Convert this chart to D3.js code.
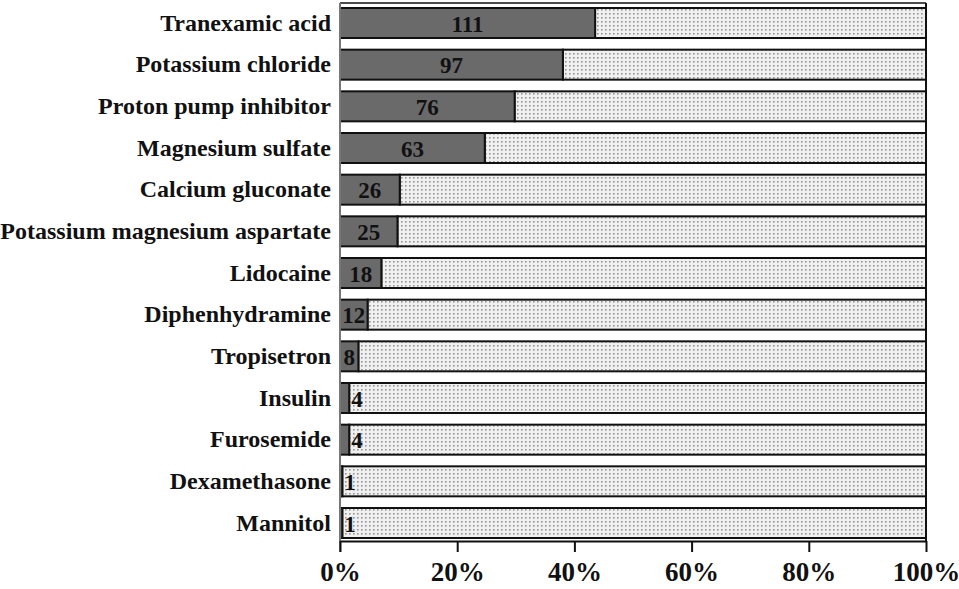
<!DOCTYPE html>
<html>
<head>
<meta charset="utf-8">
<script src="https://cdn.jsdelivr.net/npm/d3@7/dist/d3.min.js"></script>
<style>
  html, body { margin: 0; padding: 0; background: #fff; }
  svg { display: block; }
  text { font-family: "Liberation Serif", "Times New Roman", serif; font-weight: bold; fill: #111; }
</style>
</head>
<body>
<svg id="chart" width="959" height="589"></svg>
<script>
const drugs = ["Tranexamic acid", "Potassium chloride", "Proton pump inhibitor", "Magnesium sulfate",
  "Calcium gluconate", "Potassium magnesium aspartate", "Lidocaine", "Diphenhydramine",
  "Tropisetron", "Insulin", "Furosemide", "Dexamethasone", "Mannitol"];
const counts = [111, 97, 76, 63, 26, 25, 18, 12, 8, 4, 4, 1, 1];
const totalPatients = 255;
const tickValues = [0, 0.2, 0.4, 0.6, 0.8, 1.0];

const svg = d3.select("#chart");
const defs = svg.append("defs");
const pat = defs.append("pattern").attr("id", "dots").attr("patternUnits", "userSpaceOnUse")
  .attr("width", 4).attr("height", 4);
pat.append("rect").attr("width", 4).attr("height", 4).attr("fill", "#f0f0f0");
pat.append("rect").attr("x", 1).attr("y", 1).attr("width", 1.6).attr("height", 1.6).attr("fill", "#959595");

const x = d3.scaleLinear().domain([0, 1]).range([340, 926]);
const y = d3.scaleBand().domain(drugs).range([8, 538]).paddingInner(0.28).paddingOuter(0);

// frame: top and right
svg.append("line").attr("x1", x(0)).attr("x2", x(1)).attr("y1", 3).attr("y2", 3)
  .attr("stroke", "#111").attr("stroke-width", 1.5);
svg.append("line").attr("x1", x(1)).attr("x2", x(1)).attr("y1", 3).attr("y2", 541)
  .attr("stroke", "#111").attr("stroke-width", 2);

const rows = svg.append("g").selectAll("g").data(drugs).join("g");

// light remainder
rows.append("rect")
  .attr("x", (d, i) => x(counts[i] / totalPatients))
  .attr("y", d => y(d))
  .attr("width", (d, i) => x(1) - x(counts[i] / totalPatients))
  .attr("height", y.bandwidth())
  .attr("fill", "url(#dots)")
  .attr("stroke", "#111").attr("stroke-width", 2);

// dark portion
rows.append("rect")
  .attr("x", x(0))
  .attr("y", d => y(d))
  .attr("width", (d, i) => x(counts[i] / totalPatients) - x(0))
  .attr("height", y.bandwidth())
  .attr("fill", "#6a6a6a")
  .attr("stroke", "#111").attr("stroke-width", 2);

// value labels
rows.append("text")
  .attr("font-size", 23)
  .attr("dominant-baseline", "central")
  .attr("y", d => y(d) + y.bandwidth() / 2 + 1)
  .each(function (d, i) {
    const w = x(counts[i] / totalPatients) - x(0);
    const t = d3.select(this).text(counts[i]);
    const tw = String(counts[i]).length * 11.5;
    if (w > tw + 4) {
      t.attr("x", x(0) + w / 2).attr("text-anchor", "middle");
    } else {
      t.attr("x", x(0) + w + 2).attr("text-anchor", "start");
    }
  });

// y axis
const yAxis = svg.append("g").attr("transform", `translate(${x(0)},0)`)
  .call(d3.axisLeft(y).tickSize(0).tickPadding(9));
yAxis.select(".domain").attr("stroke", "#777").attr("stroke-width", 2)
  .attr("d", `M0,3V552`);
yAxis.selectAll("text").attr("font-size", 24).attr("fill", "#111")
  .attr("font-family", "'Liberation Serif', serif").attr("font-weight", "bold");

// x axis
const xAxis = svg.append("g").attr("transform", "translate(0,541)")
  .call(d3.axisBottom(x).tickValues(tickValues).tickFormat(d3.format(".0%"))
    .tickSize(11).tickSizeOuter(0).tickPadding(10));
xAxis.select(".domain").attr("stroke", "#111").attr("stroke-width", 2);
xAxis.selectAll(".tick line").attr("stroke", "#111").attr("stroke-width", 2);
xAxis.selectAll("text").attr("font-size", 27).attr("fill", "#111")
  .attr("font-family", "'Liberation Serif', serif").attr("font-weight", "bold");
</script>
</body>
</html>
